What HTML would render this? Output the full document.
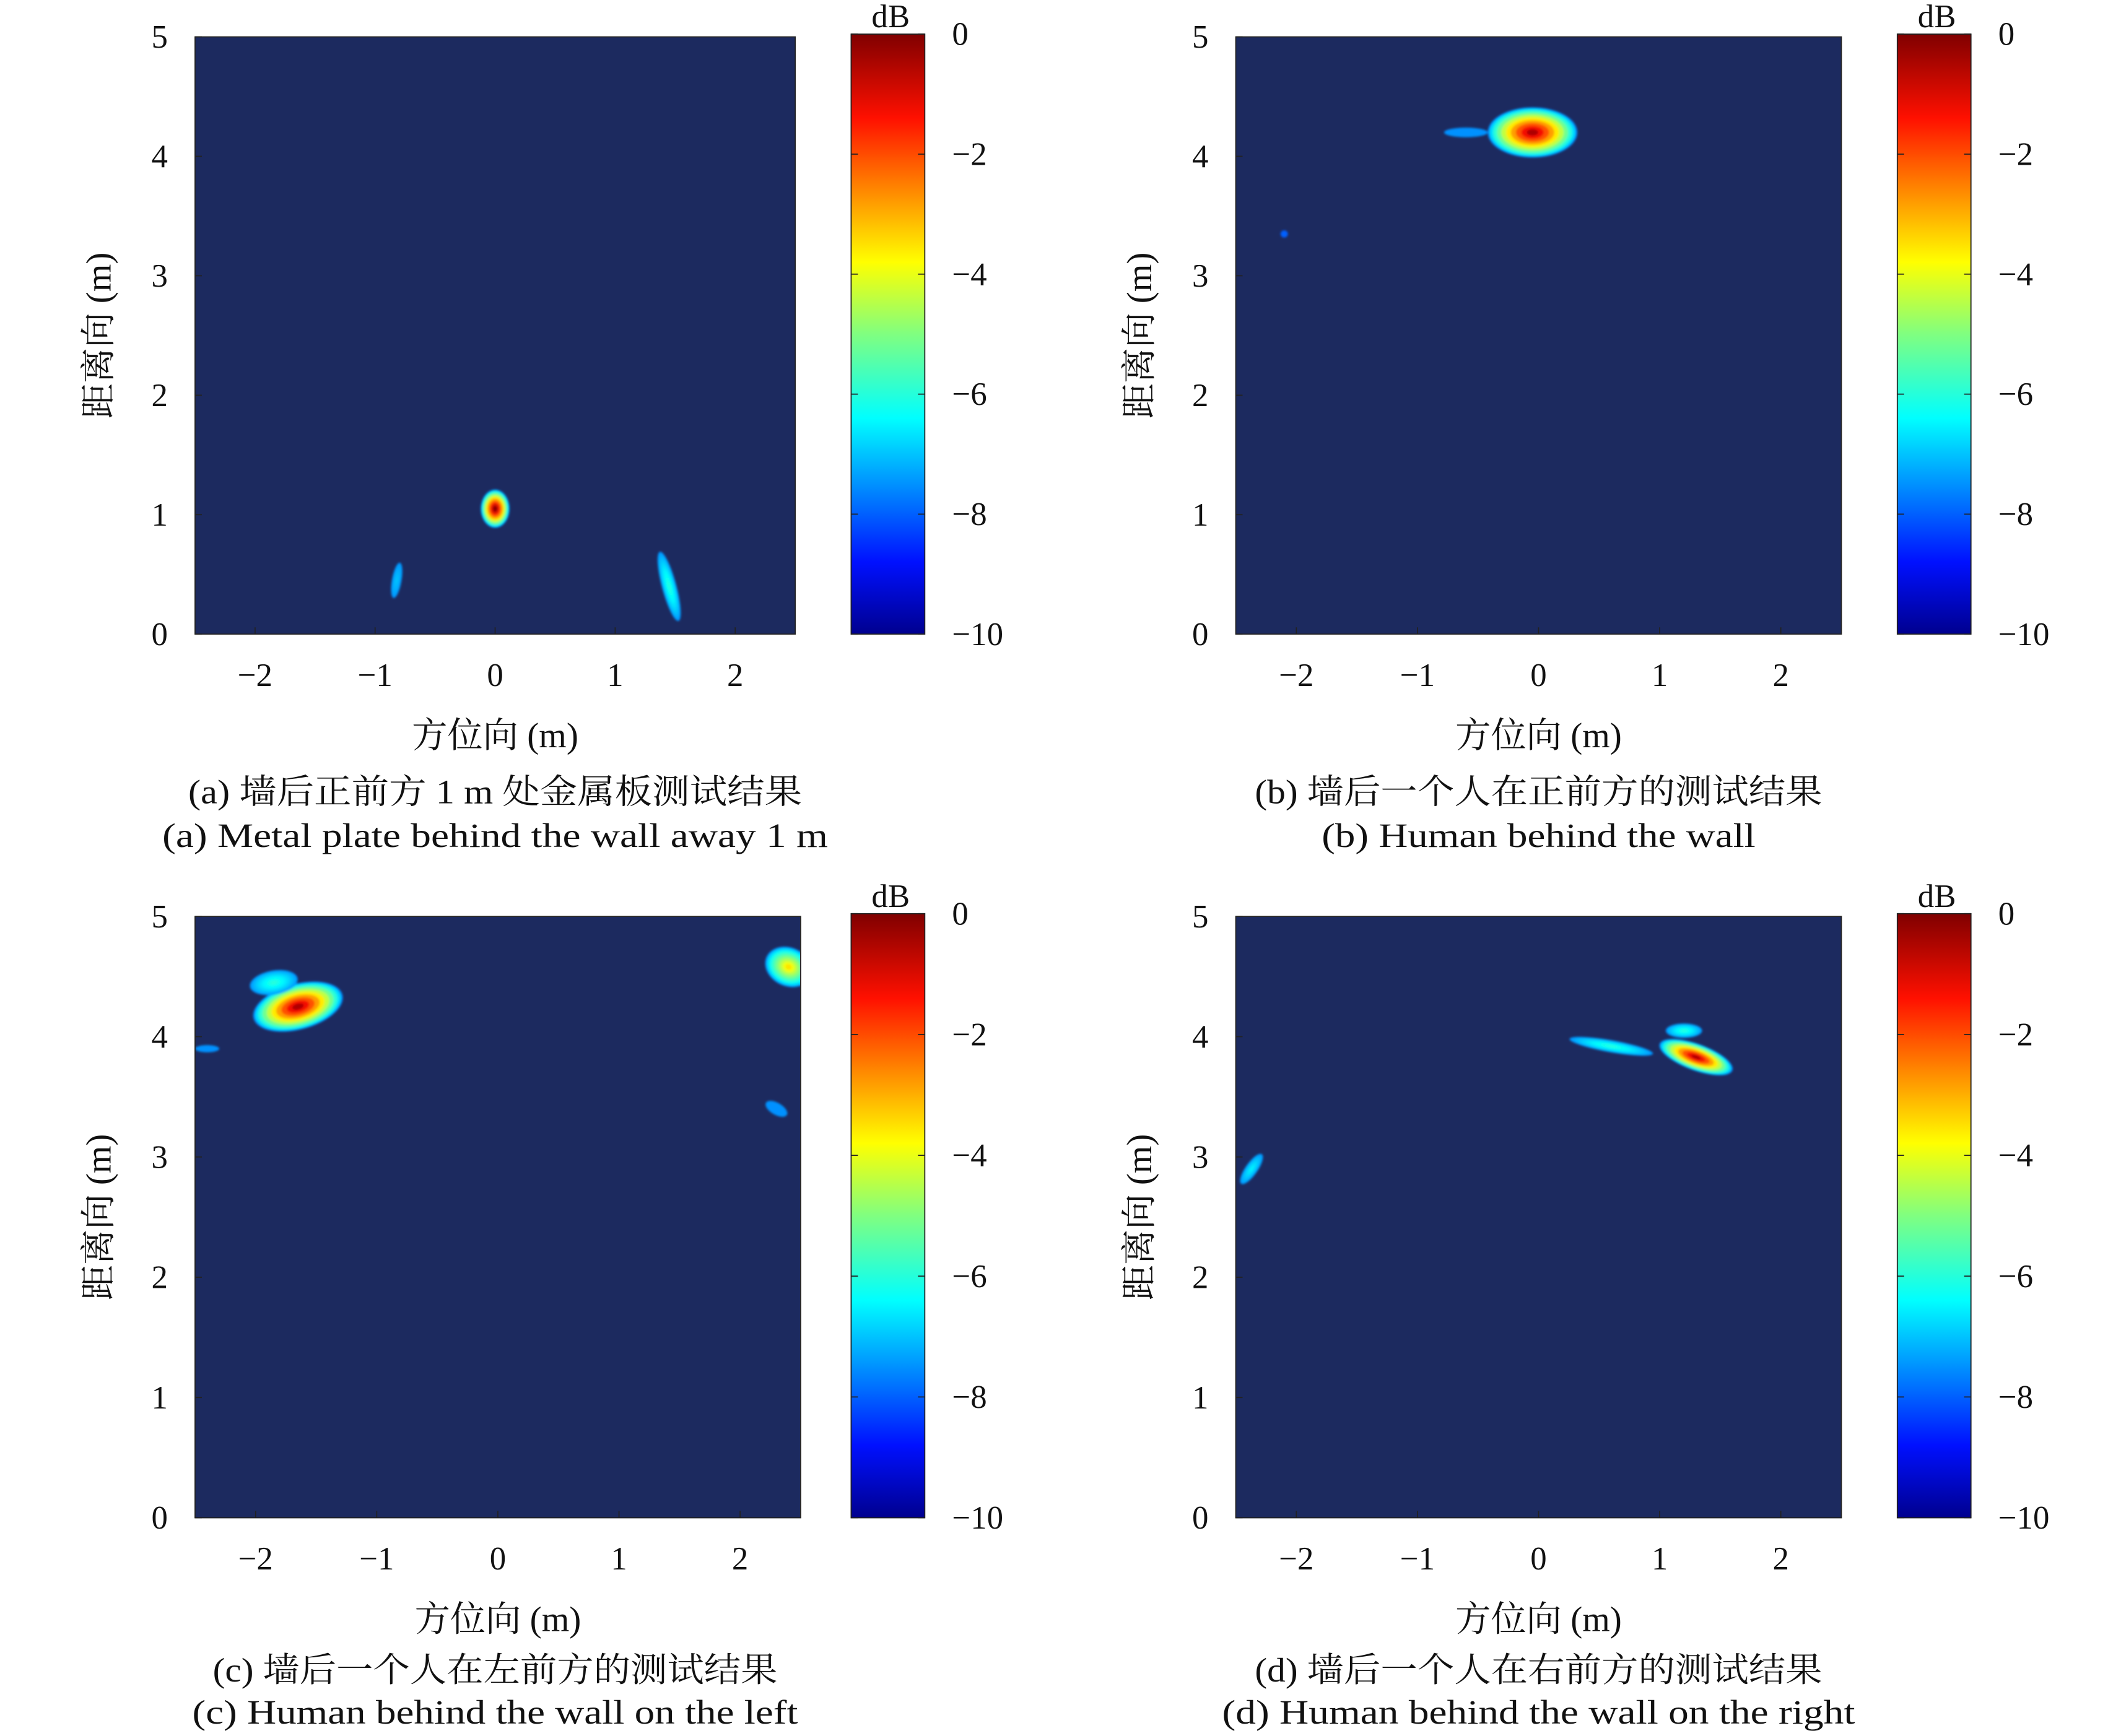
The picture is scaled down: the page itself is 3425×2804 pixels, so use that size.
<!DOCTYPE html>
<html><head><meta charset="utf-8"><style>
html,body{margin:0;padding:0;background:#fff;overflow:hidden;}
svg{display:block;}
text{font-family:"Liberation Serif","Noto Serif CJK SC",serif;fill:#111;}
</style></head><body>
<svg id="fig" width="3425" height="2804" viewBox="0 0 1555 1273" xmlns="http://www.w3.org/2000/svg">
<defs>
<linearGradient id="jet" x1="0" y1="1" x2="0" y2="0">
<stop offset="0" stop-color="#00008f"/><stop offset="0.12" stop-color="#0010ff"/>
<stop offset="0.36" stop-color="#00ffff"/><stop offset="0.5" stop-color="#80ff80"/>
<stop offset="0.62" stop-color="#ffff00"/><stop offset="0.86" stop-color="#ff1000"/>
<stop offset="1" stop-color="#800000"/></linearGradient>
<filter id="soft"><feGaussianBlur stdDeviation="0.8"/></filter>
</defs>
</svg>
<script>
const panelNames=['panel-a','panel-b','panel-c','panel-d'];
const plotLeft=[143,906,143,906];
const plotRight=[583,1350,587,1350];
const plotTop=[27,27,672,672];
const plotBottom=[465,465,1113,1113];
const cbLeft=[624,1391,624,1391];
const xTicks=[-2,-1,0,1,2];
const xTickLabels=['−2','−1','0','1','2'];
const yTicks=[0,1,2,3,4,5];
const cbTicks=[0,-2,-4,-6,-8,-10];
const cbTickLabels=['0','−2','−4','−6','−8','−10'];
const captionCn=['(a) 墙后正前方 1 m 处金属板测试结果','(b) 墙后一个人在正前方的测试结果','(c) 墙后一个人在左前方的测试结果','(d) 墙后一个人在右前方的测试结果'];
const captionEn=['(a) Metal plate behind the wall away 1 m','(b) Human behind the wall','(c) Human behind the wall on the left','(d) Human behind the wall on the right'];
const captionCnWidth=[450,416,414,416];
const captionEnWidth=[488,318,444,464];
const captionCnY=[589,589,1233,1233];
const captionEnY=[621,621,1264,1264];
// blobs: panel index, x(m), y(m), rx(m), ry(m), rotation deg, peak dB
const blobPanel=[0,0,0,1,1,1,2,2,2,2,2,3,3,3,3];
const blobX=[0,-0.82,1.45,-0.05,-0.6,-2.1,-1.65,-1.85,2.4,-2.4,2.3,1.3,0.6,1.2,-2.37];
const blobY=[1.05,0.45,0.4,4.2,4.2,3.35,4.25,4.45,4.58,3.9,3.4,3.83,3.92,4.05,2.9];
const blobRX=[0.12,0.04,0.06,0.37,0.18,0.03,0.38,0.2,0.2,0.1,0.1,0.32,0.35,0.15,0.05];
const blobRY=[0.16,0.15,0.3,0.21,0.04,0.03,0.19,0.1,0.16,0.03,0.05,0.11,0.05,0.06,0.15];
const blobRot=[0,10,-15,0,0,0,-15,-10,25,0,30,20,10,0,35];
const blobPeak=[0,-7,-6,-0.5,-7.5,-8,-0.5,-6,-3.5,-7.5,-7.5,-0.5,-6,-6,-6.5];
const NS='http://www.w3.org/2000/svg';
const svg=document.getElementById('fig');
function jet(v){
 const stops=[[0,[0,0,143]],[0.12,[0,16,255]],[0.36,[0,255,255]],[0.5,[128,255,128]],[0.62,[255,255,0]],[0.86,[255,16,0]],[1,[128,0,0]]];
 v=Math.max(0,Math.min(1,v));
 for(let i=1;i<stops.length;i++){if(v<=stops[i][0]){const a=stops[i-1],b=stops[i],t=(v-a[0])/(b[0]-a[0]);return 'rgb('+a[1].map((c,k)=>Math.round(c+(b[1][k]-c)*t)).join(',')+')';}}
 return 'rgb(128,0,0)';}
function el(tag,attrs,parent){const e=document.createElementNS(NS,tag);for(const k in attrs)e.setAttribute(k,attrs[k]);(parent||svg).appendChild(e);return e;}
for(let p=0;p<4;p++){
 const g=el('g',{});
 
 
 const L=plotLeft[p],R=plotRight[p],T=plotTop[p],B=plotBottom[p];
 const xs=v=>L+(v+2.5)/5*(R-L), ys=v=>B-v/5*(B-T);
 const bg=el('rect',{x:L,y:T,width:R-L,height:B-T,fill:'#1c2a5f'},g);
 
 
 const clip=el('clipPath',{id:'clip'+p},g);el('rect',{x:L,y:T,width:R-L,height:B-T},clip);
 const hg=el('g',{'clip-path':'url(#clip'+p+')',filter:'url(#soft)'},g);
 for(let i=0;i<blobPanel.length;i++){ if(blobPanel[i]!==p)continue;
  const cx=xs(blobX[i]),cy=ys(blobY[i]),rx=blobRX[i]/5*(R-L),ry=blobRY[i]/5*(B-T);
  const bgrp=el('g',{transform:'rotate('+blobRot[i]+' '+cx+' '+cy+')'},hg);
  
  
  const steps=10, start=Math.min(-7.5,blobPeak[i]);
  for(let s=0;s<steps;s++){
   const lev=start+(blobPeak[i]-start)*s/(steps-1);
   const frac=1-Math.pow(s/steps,1.3);
   el('ellipse',{cx:cx,cy:cy,rx:rx*frac,ry:ry*frac,fill:jet((lev+10)/10)},bgrp);
  }
 }
 el('rect',{x:L,y:T,width:R-L,height:B-T,fill:'none',stroke:'#222','stroke-width':0.8},g);
 xTicks.forEach((v,k)=>{const x=xs(v);
  el('line',{x1:x,y1:B,x2:x,y2:B-5,stroke:'#222','stroke-width':0.8},g);
  const t=el('text',{x:x,y:B+38,'text-anchor':'middle','font-size':24},g);t.textContent=xTickLabels[k];
  });
 yTicks.forEach(v=>{const y=ys(v);
  el('line',{x1:L,y1:y,x2:L+5,y2:y,stroke:'#222','stroke-width':0.8},g);
  const t=el('text',{x:L-20,y:y+8,'text-anchor':'end','font-size':24},g);t.textContent=String(v);
  });
 const xt=el('text',{x:(L+R)/2,y:B+83,'text-anchor':'middle','font-size':26},g);xt.textContent='方位向 (m)';
 
 const yx=L-62,yy=(T+B)/2;
 const yt=el('text',{x:yx,y:yy,'text-anchor':'middle','font-size':26,transform:'rotate(-90 '+yx+' '+yy+')'},g);yt.textContent='距离向 (m)';
 
 const CL=cbLeft[p],CW=54,CT=T-2,CB=B;
 const cb=el('rect',{x:CL,y:CT,width:CW,height:CB-CT,fill:'url(#jet)',stroke:'#222','stroke-width':0.8},g);
 
 cbTicks.forEach((v,k)=>{const y=CT+(-v)/10*(CB-CT);
  el('line',{x1:CL+CW-5,y1:y,x2:CL+CW,y2:y,stroke:'#222','stroke-width':0.8},g);
  el('line',{x1:CL,y1:y,x2:CL+5,y2:y,stroke:'#222','stroke-width':0.8},g);
  const t=el('text',{x:CL+CW+20,y:y+8,'font-size':24},g);t.textContent=cbTickLabels[k];
  });
 const db=el('text',{x:CL+CW/2+2,y:CT-5,'text-anchor':'middle','font-size':24},g);db.textContent='dB';
 
 const cx0=(p%2?1128:363);
 const c1=el('text',{x:cx0,y:captionCnY[p],'text-anchor':'middle','font-size':25,textLength:captionCnWidth[p],lengthAdjust:'spacingAndGlyphs'},g);c1.textContent=captionCn[p];
 
 const c2=el('text',{x:cx0,y:captionEnY[p],'text-anchor':'middle','font-size':25,textLength:captionEnWidth[p],lengthAdjust:'spacingAndGlyphs'},g);c2.textContent=captionEn[p];
 
}
</script>
</body></html>
